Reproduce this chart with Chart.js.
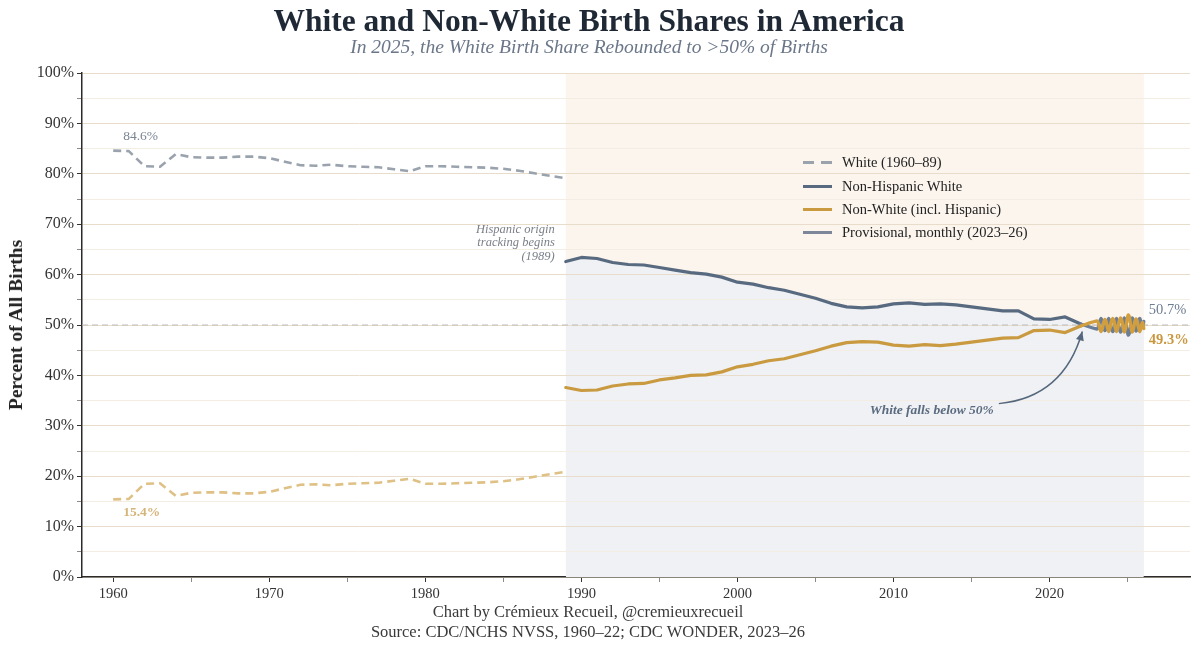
<!DOCTYPE html>
<html>
<head>
<meta charset="utf-8">
<script src="https://cdn.jsdelivr.net/npm/chart.js@4.4.1/dist/chart.umd.min.js"></script>
<style>
  html, body { margin:0; padding:0; background:#ffffff; }
  #wrap { position:relative; width:1200px; height:648px; overflow:hidden; font-family:'Liberation Serif','DejaVu Serif',serif; }
  #c { position:absolute; left:0; top:0; }
  .txt { position:absolute; white-space:nowrap; }
  #title { left:0; width:1178px; text-align:center; top:3px; font-size:31.5px; font-weight:bold; color:#1f2835; }
  #subtitle { left:0; width:1178px; text-align:center; top:36px; font-size:19.5px; font-style:italic; color:#6b7788; }
  #footer { left:0; width:1176px; text-align:center; top:602px; font-size:16.5px; line-height:20px; color:#3a3a3a; }
  #ylabel { left:16px; top:325px; transform:translate(-50%,-50%) rotate(-90deg); font-size:19.5px; font-weight:bold; color:#222; }
  #legend { position:absolute; left:803px; top:151px; }
  .lg { height:23.4px; display:flex; align-items:center; font-size:14.5px; color:#222; white-space:nowrap; }
  .sw { width:29px; height:3px; margin-right:10px; }
  .ann { position:absolute; white-space:nowrap; }
</style>
</head>
<body>
<div id="wrap">
  <canvas id="c" width="1200" height="648"></canvas>
  <div id="title" class="txt">White and Non-White Birth Shares in America</div>
  <div id="subtitle" class="txt">In 2025, the White Birth Share Rebounded to &gt;50% of Births</div>
  <div id="ylabel" class="txt">Percent of All Births</div>
  <div id="footer" class="txt">Chart by Crémieux Recueil, @cremieuxrecueil<br>Source: CDC/NCHS NVSS, 1960–22; CDC WONDER, 2023–26</div>
  <div id="legend"></div>
  <div id="lbl846" class="ann" style="font-size:13.5px;color:#7b8595;">84.6%</div>
  <div id="lbl154" class="ann" style="font-size:13.5px;color:#d5b479;font-weight:bold;">15.4%</div>
  <div id="lbl507" class="ann" style="font-size:14.5px;color:#6e7d92;">50.7%</div>
  <div id="lbl493" class="ann" style="font-size:14.5px;color:#c9973e;font-weight:bold;">49.3%</div>
  <div id="lblHisp" class="ann" style="font-size:12.5px;line-height:13.5px;color:#7a7f88;font-style:italic;text-align:right;">Hispanic origin<br>tracking begins<br>(1989)</div>
  <div id="lblFall" class="ann" style="font-size:13.5px;color:#5b6b80;font-style:italic;font-weight:bold;">White falls below 50%</div>
</div>
<script>
// ---------------- DATA ----------------
const whiteYears = [1960,1961,1962,1963,1964,1965,1966,1967,1968,1969,1970,1971,1972,1973,1974,1975,1976,1977,1978,1979,1980,1981,1982,1983,1984,1985,1986,1987,1988,1989];
const whiteShare = [84.6,84.5,81.5,81.4,83.9,83.3,83.2,83.2,83.4,83.4,83.1,82.4,81.7,81.6,81.8,81.5,81.4,81.3,80.9,80.5,81.5,81.5,81.4,81.3,81.2,81.0,80.6,80.1,79.6,79.1];
const nonWhiteEarly = [15.4,15.5,18.5,18.6,16.1,16.7,16.8,16.8,16.6,16.6,16.9,17.6,18.3,18.4,18.2,18.5,18.6,18.7,19.1,19.5,18.5,18.5,18.6,18.7,18.8,19.0,19.4,19.9,20.4,20.9];

const hispYears = [1989,1990,1991,1992,1993,1994,1995,1996,1997,1998,1999,2000,2001,2002,2003,2004,2005,2006,2007,2008,2009,2010,2011,2012,2013,2014,2015,2016,2017,2018,2019,2020,2021,2022];
const nhwShare = [62.6,63.4,63.2,62.4,62.0,61.9,61.4,60.9,60.4,60.1,59.5,58.5,58.1,57.4,56.9,56.1,55.3,54.3,53.6,53.4,53.6,54.2,54.4,54.1,54.2,54.0,53.6,53.2,52.8,52.8,51.2,51.1,51.6,50.2];
const nwShare  = [37.6,37.0,37.1,37.9,38.3,38.4,39.1,39.5,40.0,40.1,40.7,41.7,42.2,42.9,43.3,44.1,44.9,45.8,46.5,46.7,46.6,46.0,45.8,46.1,45.9,46.2,46.6,47.0,47.4,47.5,48.9,49.0,48.5,49.8];

const monthLabels = ['2023-01','2023-02','2023-03','2023-04','2023-05','2023-06','2023-07','2023-08','2023-09','2023-10','2023-11','2023-12',
                     '2024-01','2024-02','2024-03','2024-04','2024-05','2024-06','2024-07','2024-08','2024-09','2024-10','2024-11','2024-12',
                     '2025-01','2025-02','2025-03','2025-04','2025-05','2025-06','2025-07','2025-08','2025-09','2025-10','2025-11','2025-12',
                     '2026-01'];
const nhwMonthly = [49.2,49.6,50.6,51.3,50.8,49.6,48.9,49.3,50.5,51.3,50.6,49.3,
                    48.7,49.1,50.5,51.3,50.6,49.3,48.6,49.0,50.5,51.4,50.6,49.1,
                    48.0,48.5,50.3,51.4,50.8,49.4,48.8,49.3,50.6,51.3,50.2,49.5,
                    50.7];
const nwMonthly  = [50.8,50.4,49.4,48.7,49.2,50.4,51.1,50.7,49.5,48.7,49.4,50.7,
                    51.3,50.9,49.5,48.7,49.4,50.7,51.4,51.0,49.5,48.6,49.4,50.9,
                    52.0,51.5,49.7,48.6,49.2,50.6,51.2,50.7,49.4,48.7,49.8,50.5,
                    49.3];

const xTickYears = [1960,1970,1980,1990,2000,2010,2020];
const yTickPct = [0,10,20,30,40,50,60,70,80,90,100];
const parityLine = 50;
const legendLabels = ['White (1960–89)','Non-Hispanic White','Non-White (incl. Hispanic)','Provisional, monthly (2023–26)'];

// ---------------- STYLE ----------------
const C = {
  whiteDash:'#9aa3ad', nwDash:'#dfc085', nhw:'#586a80', nw:'#c99a40',
  nhwM:'#6c7e96', nwM:'#d39e3d', fill:'#eff1f4', box:'#fbf5ed',
  gridMajor:'#e8dccb', gridMinor:'#f3ede4', axis:'#2a2a2a'
};
const FONT = "'Liberation Serif', 'DejaVu Serif', serif";

const pts = (xs, ys) => xs.map((x,i)=>({x:x, y:ys[i]}));
const monthX = monthLabels.map(s => { const p = s.split('-').map(Number); return p[0] + (p[1]-0.5)/12; });
const lastAnnual = arr => [{x:hispYears[hispYears.length-1], y:arr[arr.length-1]}];
const fillData = pts(hispYears, nhwShare).concat(pts(monthX, nhwMonthly));
const FILL_IDX = 6;

const lineDefaults = { pointRadius:0, pointHoverRadius:0, fill:false, tension:0, borderCapStyle:'round', borderJoinStyle:'round' };

const datasets = [
  Object.assign({}, lineDefaults, { label:'nwM', data:lastAnnual(nwShare).concat(pts(monthX, nwMonthly)), borderColor:C.nwM, borderWidth:3.3, tension:0.3 }),
  Object.assign({}, lineDefaults, { label:'nhwM', data:lastAnnual(nhwShare).concat(pts(monthX, nhwMonthly)), borderColor:C.nhwM, borderWidth:3.3, tension:0.3 }),
  Object.assign({}, lineDefaults, { label:'nw', data:pts(hispYears, nwShare), borderColor:C.nw, borderWidth:3.2 }),
  Object.assign({}, lineDefaults, { label:'nhw', data:pts(hispYears, nhwShare), borderColor:C.nhw, borderWidth:3.2 }),
  Object.assign({}, lineDefaults, { label:'white', data:pts(whiteYears, whiteShare), borderColor:C.whiteDash, borderWidth:2.6, borderDash:[8,5], borderCapStyle:'butt' }),
  Object.assign({}, lineDefaults, { label:'nwEarly', data:pts(whiteYears, nonWhiteEarly), borderColor:C.nwDash, borderWidth:2.6, borderDash:[8,5], borderCapStyle:'butt' }),
  Object.assign({}, lineDefaults, { label:'fill', data:fillData, borderWidth:0, borderColor:'rgba(0,0,0,0)', backgroundColor:C.fill, fill:'origin', order:10 })
];

const decor = {
  id:'decor',
  beforeDraw(chart){
    const {ctx, chartArea:a, scales:{x}} = chart;
    const x0 = x.getPixelForValue(hispYears[0]);
    const x1 = x.getPixelForValue(monthX[monthX.length-1]);
    ctx.save();
    ctx.fillStyle = C.box;
    ctx.fillRect(x0, a.top, x1-x0, a.bottom-a.top);
    ctx.restore();
  },
  afterDatasetDraw(chart, args){
    if (args.index !== FILL_IDX) return;
    const {ctx, chartArea:a, scales:{x, y}} = chart;
    const x0 = x.getPixelForValue(hispYears[0]);
    const x1 = x.getPixelForValue(monthX[monthX.length-1]);
    ctx.save();
    ctx.beginPath(); ctx.rect(x0, a.top, x1-x0, a.bottom-a.top); ctx.clip();
    y.drawGrid(a);
    ctx.restore();
    const py = y.getPixelForValue(parityLine);
    ctx.save();
    ctx.strokeStyle = '#bcbcbc'; ctx.lineWidth = 1.2; ctx.setLineDash([6,4]);
    ctx.beginPath(); ctx.moveTo(a.left, py); ctx.lineTo(a.right, py); ctx.stroke();
    ctx.restore();
  },
  afterDraw(chart){
    const {ctx, scales:{x, y}} = chart;
    const sx = x.getPixelForValue(2016.75), sy = y.getPixelForValue(34.4);
    const cx = x.getPixelForValue(2020.9), cy = y.getPixelForValue(35.6);
    const ex = x.getPixelForValue(2022.1), ey = y.getPixelForValue(48.7);
    ctx.save();
    ctx.strokeStyle = '#56677d'; ctx.fillStyle = '#56677d'; ctx.lineWidth = 1.5;
    ctx.beginPath(); ctx.moveTo(sx, sy); ctx.quadraticCurveTo(cx, cy, ex, ey); ctx.stroke();
    const ang = Math.atan2(ey-cy, ex-cx);
    const L = 9, W = 4;
    ctx.beginPath();
    ctx.moveTo(ex, ey);
    ctx.lineTo(ex - L*Math.cos(ang) + W*Math.sin(ang), ey - L*Math.sin(ang) - W*Math.cos(ang));
    ctx.lineTo(ex - L*Math.cos(ang) - W*Math.sin(ang), ey - L*Math.sin(ang) + W*Math.cos(ang));
    ctx.closePath(); ctx.fill();
    ctx.restore();
  }
};

const chart = new Chart(document.getElementById('c'), {
  type:'line',
  data:{ datasets },
  options:{
    responsive:false, animation:false, parsing:true,
    layout:{ padding:{ top:73, right:10, left:0, bottom:0 } },
    plugins:{ legend:{display:false}, tooltip:{enabled:false}, title:{display:false} },
    scales:{
      x:{
        type:'linear', min:1958, max:2029, z:1,
        ticks:{ stepSize:5, includeBounds:false, autoSkip:false, maxRotation:0, padding:3,
                font:{family:FONT, size:14.5}, color:'#333',
                callback:v => xTickYears.includes(v) ? String(v) : '' },
        grid:{ drawOnChartArea:false, drawTicks:true, tickLength:5,
               tickColor:ctx => (ctx.tick && xTickYears.includes(ctx.tick.value)) ? '#333' : '#8a8a8a' },
        border:{ color:C.axis, width:1.5 },
        afterFit(s){ s.height = 71; }
      },
      y:{
        type:'linear', min:0, max:100,
        ticks:{ stepSize:5, includeBounds:false, autoSkip:false, padding:3,
                font:{family:FONT, size:16}, color:'#333',
                callback:v => yTickPct.includes(v) ? v + '%' : '' },
        grid:{ tickLength:5, lineWidth:1,
               color:ctx => (ctx.tick && yTickPct.includes(ctx.tick.value)) ? C.gridMajor : C.gridMinor,
               tickColor:ctx => (ctx.tick && yTickPct.includes(ctx.tick.value)) ? '#333' : '#8a8a8a' },
        border:{ color:C.axis, width:1.5 },
        afterFit(s){ s.width = 82; }
      }
    }
  },
  plugins:[decor]
});

// ---------------- LEGEND ----------------
const swatches = [
  'background:linear-gradient(to right,'+C.whiteDash+' 0 11px,transparent 11px 18px,'+C.whiteDash+' 18px 29px);',
  'background:'+C.nhw+';',
  'background:'+C.nw+';',
  'background:#7c889a;'
];
const lg = document.getElementById('legend');
legendLabels.forEach((t,i) => {
  const row = document.createElement('div'); row.className = 'lg';
  const sw = document.createElement('div'); sw.className = 'sw'; sw.style.cssText = swatches[i];
  const tx = document.createElement('span'); tx.textContent = t;
  row.appendChild(sw); row.appendChild(tx); lg.appendChild(row);
});

// ---------------- ANNOTATION POSITIONS ----------------
const xs = chart.scales.x, ys = chart.scales.y;
function place(id, px, py, right){
  const el = document.getElementById(id);
  el.style.left = px + 'px'; el.style.top = py + 'px';
  el.style.transform = right ? 'translate(-100%,-50%)' : 'translate(0,-50%)';
}
place('lbl846', xs.getPixelForValue(whiteYears[0]) + 10, ys.getPixelForValue(whiteShare[0]) - 14.5, false);
place('lbl154', xs.getPixelForValue(whiteYears[0]) + 10, ys.getPixelForValue(nonWhiteEarly[0]) + 12.5, false);
const lastX = xs.getPixelForValue(monthX[monthX.length-1]);
place('lbl507', lastX + 5, ys.getPixelForValue(nhwMonthly[nhwMonthly.length-1]) - 12.5, false);
place('lbl493', lastX + 5, ys.getPixelForValue(nwMonthly[nwMonthly.length-1]) + 10.5, false);
place('lblHisp', xs.getPixelForValue(hispYears[0]) - 11, ys.getPixelForValue(nhwShare[0]) - 18.5, true);
place('lblFall', xs.getPixelForValue(2016.75) - 5, ys.getPixelForValue(34.4) + 6, true);
</script>
</body>
</html>
